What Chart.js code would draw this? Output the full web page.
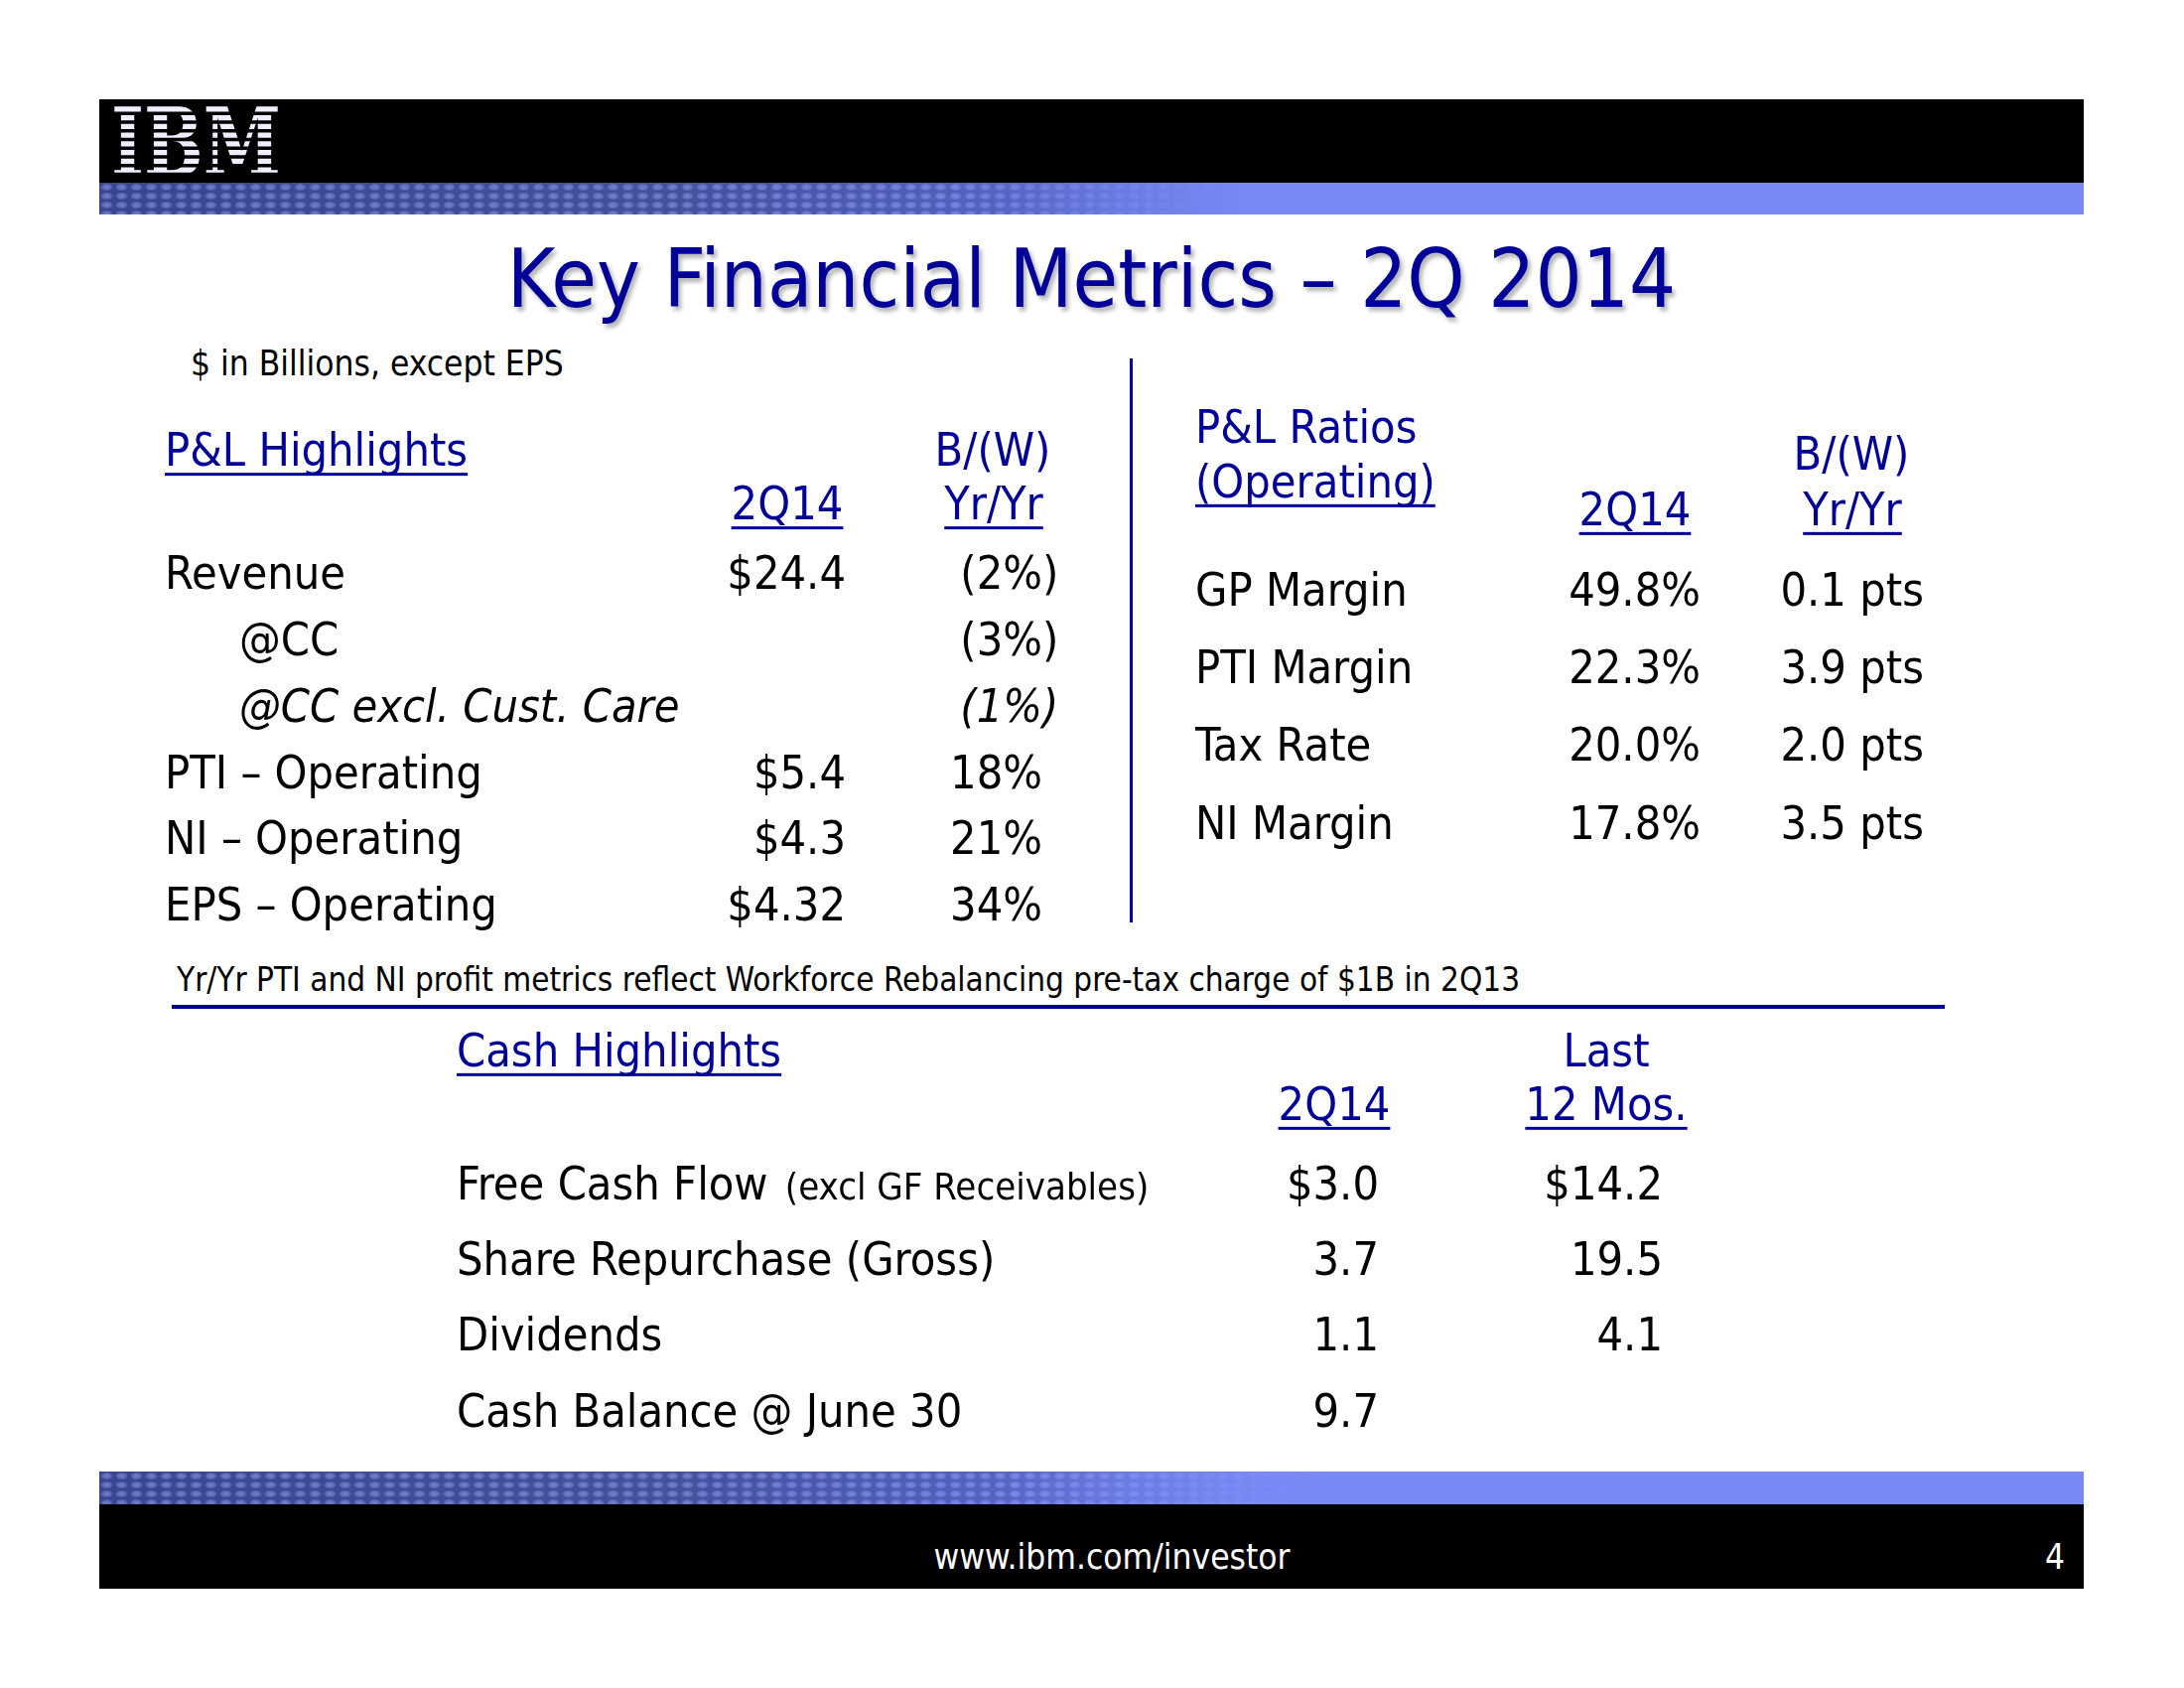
<!DOCTYPE html>
<html>
<head>
<meta charset="utf-8">
<title>Key Financial Metrics – 2Q 2014</title>
<script src="https://cdn.jsdelivr.net/npm/chart.js@4.4.1/dist/chart.umd.min.js"></script>
<style>
  html, body { margin: 0; padding: 0; background: #fff; }
  #slide { position: relative; width: 2200px; height: 1700px; overflow: hidden; background: #fff;
           font-family: 'DejaVu Sans Condensed', 'DejaVu Sans', sans-serif; }
  .abs { position: absolute; }
  .black { background: #000; left: 100px; width: 1999px; }
  .band { left: 100px; width: 1999px; overflow: hidden;
          background: linear-gradient(to right, #3a4592 0%, #45519f 30%, #5462c2 45%, #6c7ce6 52%, #7888f5 58%, #7888f5 100%); }
  .dots { position: absolute; left: 0; top: 0; height: 100%;
          background-image: radial-gradient(ellipse at center, rgba(160,170,250,0.55) 0%, rgba(160,170,250,0.35) 40%, rgba(0,0,0,0) 62%);
          background-size: 15px 9px;
          -webkit-mask-image: linear-gradient(to right, #000 0%, #000 75%, transparent 100%);
          mask-image: linear-gradient(to right, #000 0%, #000 75%, transparent 100%); }
  .txt { position: absolute; white-space: nowrap; line-height: 1; }
  canvas { position: absolute; }
</style>
</head>
<body>
<div id="slide">
  <div class="abs black" style="top:100px;height:85px;"></div>
  <div class="abs band" style="top:184px;height:32px;"><div class="dots" style="width:1150px;"></div></div>
  <canvas id="logo" width="180" height="80" style="left:108px;top:102px;"></canvas>

  <div class="txt" id="title" style="left:100px;width:1999px;text-align:center;top:239px;font-size:82.5px;color:#000099;text-shadow:3px 4px 4px rgba(0,0,0,0.3);">Key Financial Metrics – 2Q 2014</div>
  <div class="txt" style="left:192px;top:349px;font-size:35px;color:#000;">$ in Billions, except EPS</div>

  <div class="abs" style="left:1138px;top:361px;width:3px;height:568px;background:#000099;"></div>

  <canvas id="plChart" width="960" height="560" style="left:150px;top:400px;"></canvas>
  <canvas id="ratioChart" width="820" height="500" style="left:1160px;top:380px;"></canvas>

  <div class="txt" style="left:178px;top:970px;font-size:33px;color:#000;">Yr/Yr PTI and NI profit metrics reflect Workforce Rebalancing pre-tax charge of $1B in 2Q13</div>
  <div class="abs" style="left:173px;top:1012px;width:1786px;height:4px;background:#000099;"></div>

  <canvas id="cashChart" width="1400" height="445" style="left:420px;top:1020px;"></canvas>

  <div class="abs band" style="top:1482px;height:34px;"><div class="dots" style="width:1250px;"></div></div>
  <div class="abs black" style="top:1515px;height:85px;"></div>
  <div class="txt" style="left:1120px;transform:translateX(-50%);top:1551px;font-size:35px;color:#fff;">www.ibm.com/investor</div>
  <div class="txt" style="right:120px;top:1551px;font-size:35px;color:#fff;">4</div>
</div>

<script>
// ---------------- data ----------------
const plRows      = ['Revenue', '@CC', '@CC excl. Cust. Care', 'PTI – Operating', 'NI – Operating', 'EPS – Operating'];
const pl2Q14      = [24.4, null, null, 5.4, 4.3, 4.32];
const plYrYr      = [-2, -3, -1, 18, 21, 34];
const plHeads     = ['P&L Highlights', '2Q14', 'B/(W)', 'Yr/Yr'];

const ratioRows   = ['GP Margin', 'PTI Margin', 'Tax Rate', 'NI Margin'];
const ratio2Q14   = [49.8, 22.3, 20.0, 17.8];
const ratioYrYr   = [0.1, 3.9, 2.0, 3.5];
const ratioHeads  = ['P&L Ratios', '(Operating)', '2Q14', 'B/(W)', 'Yr/Yr'];

const cashRows    = ['Free Cash Flow', 'Share Repurchase (Gross)', 'Dividends', 'Cash Balance @ June 30'];
const cashNotes   = ['(excl GF Receivables)', '', '', ''];
const cash2Q14    = [3.0, 3.7, 1.1, 9.7];
const cashLTM     = [14.2, 19.5, 4.1, null];
const cashHeads   = ['Cash Highlights', 'Last', '2Q14', '12 Mos.'];

// ---------------- formatting ----------------
const fmtDollar = v => v == null ? '' : '$' + String(v);
const fmtPctChg = v => v == null ? '' : (v < 0 ? '(' + (-v) + '%)' : v + '%');
const fmtPct1   = v => v == null ? '' : v.toFixed(1) + '%';
const fmtPts    = v => v == null ? '' : v.toFixed(1) + ' pts';
const fmtCash   = (v, i) => v == null ? '' : (i === 0 ? '$' : '') + v.toFixed(1);

const FAMILY = "'DejaVu Sans Condensed', 'DejaVu Sans', sans-serif";
const BLUE = '#000099';
const fontStr = (size, italic) => (italic ? 'italic ' : '') + size + 'px ' + FAMILY;

// ---------------- IBM logo (decoration) ----------------
(function drawLogo() {
  const c = document.getElementById('logo');
  const g = c.getContext('2d');
  g.font = "bold 96px 'DejaVu Serif', serif";
  const w = g.measureText('IBM').width;
  g.save();
  g.translate(4, 75);
  g.scale(171 / w, 1);
  g.fillStyle = '#eeeeff';
  g.fillText('IBM', 0, 0);
  g.restore();
  g.fillStyle = '#000';
  for (let k = 0; k < 8; k++) g.fillRect(0, 5 + k * 8.75 + 5.5, 180, 3.5);
  g.fillRect(0, 0, 180, 5);
})();

// ---------------- table plugin ----------------
const tableText = {
  id: 'tableText',
  afterDatasetsDraw(chart, args, o) {
    const ctx = chart.ctx;
    const xs = chart.scales.x, ys = chart.scales.y;
    ctx.save();
    ctx.textBaseline = 'alphabetic';
    chart.data.datasets.forEach((ds, di) => {
      const meta = chart.getDatasetMeta(di);
      meta.data.forEach((pt, i) => {
        const txt = ds.texts[i];
        if (!txt) return;
        const italic = (o.italicRows || []).includes(i);
        ctx.font = fontStr(o.size, italic);
        ctx.fillStyle = '#000';
        ctx.textAlign = ds.align;
        let x = pt.x;
        if (ds.align === 'right' && ds.hangParen && txt.endsWith(')')) x += ctx.measureText(')').width;
        const y = pt.y + o.size * 0.36;
        ctx.fillText(txt, x, y);
        if (ds.notes && ds.notes[i]) {
          const w = ctx.measureText(txt + ' ').width;
          ctx.font = fontStr(o.noteSize, false);
          ctx.textAlign = 'left';
          ctx.fillText(ds.notes[i], x + w + 4, y);
        }
      });
    });
    const y0 = ys.getPixelForValue(0);
    ctx.fillStyle = BLUE;
    o.heads.forEach(h => {
      ctx.font = fontStr(o.size, false);
      ctx.textAlign = h.align;
      const x = xs.getPixelForValue(h.x);
      const y = y0 + h.dy + o.size * 0.36;
      ctx.fillText(h.text, x, y);
      if (h.underline) {
        const w = ctx.measureText(h.text).width;
        const x0 = h.align === 'left' ? x : (h.align === 'center' ? x - w / 2 : x - w);
        ctx.fillRect(x0, y + o.size * 0.15, w, 3);
      }
    });
    ctx.restore();
  }
};

function makeTable(id, rows, columns, layout, heads) {
  const canvas = document.getElementById(id);
  const datasets = columns.map(col => ({
    texts: col.texts,
    notes: col.notes,
    align: col.align,
    hangParen: col.hangParen,
    data: rows.map((r, i) => ({ x: typeof col.x === 'function' ? col.x(i) : col.x, y: r })),
    pointRadius: 0,
    pointHoverRadius: 0,
    showLine: false
  }));
  return new Chart(canvas, {
    type: 'scatter',
    data: { datasets },
    options: {
      responsive: false,
      animation: false,
      devicePixelRatio: 1,
      events: [],
      layout: { padding: { top: layout.padTop, bottom: layout.padBottom, left: 0, right: 0 } },
      scales: {
        x: { type: 'linear', min: 0, max: canvas.width, display: false },
        y: { type: 'category', labels: rows, offset: true, display: false }
      },
      plugins: {
        legend: { display: false },
        tooltip: { enabled: false },
        tableText: { size: 46.5, noteSize: 38, italicRows: layout.italicRows, heads }
      }
    },
    plugins: [tableText]
  });
}

// P&L Highlights
makeTable('plChart', plRows, [
  { texts: plRows, align: 'left', x: i => (i === 1 || i === 2) ? 91 : 16 },
  { texts: pl2Q14.map(fmtDollar), align: 'right', x: 702 },
  { texts: plYrYr.map(fmtPctChg), align: 'right', x: 900, hangParen: true }
], { padTop: 143, padBottom: 16, italicRows: [2] }, [
  { text: plHeads[0], x: 16,  dy: -124, align: 'left',   underline: true },
  { text: plHeads[1], x: 643, dy: -70,  align: 'center', underline: true },
  { text: plHeads[2], x: 850, dy: -124, align: 'center' },
  { text: plHeads[3], x: 851, dy: -70,  align: 'center', underline: true }
]);

// P&L Ratios
makeTable('ratioChart', ratioRows, [
  { texts: ratioRows, align: 'left', x: 44 },
  { texts: ratio2Q14.map(fmtPct1), align: 'right', x: 553 },
  { texts: ratioYrYr.map(fmtPts), align: 'right', x: 778 }
], { padTop: 174, padBottom: 13, italicRows: [] }, [
  { text: ratioHeads[0], x: 44,  dy: -164, align: 'left' },
  { text: ratioHeads[1], x: 44,  dy: -109, align: 'left',   underline: true },
  { text: ratioHeads[2], x: 487, dy: -81,  align: 'center', underline: true },
  { text: ratioHeads[3], x: 705, dy: -137, align: 'center' },
  { text: ratioHeads[4], x: 706, dy: -81,  align: 'center', underline: true }
]);

// Cash Highlights
makeTable('cashChart', cashRows, [
  { texts: cashRows, notes: cashNotes, align: 'left', x: 40 },
  { texts: cash2Q14.map(fmtCash), align: 'right', x: 969 },
  { texts: cashLTM.map(fmtCash), align: 'right', x: 1255 }
], { padTop: 133, padBottom: 7, italicRows: [] }, [
  { text: cashHeads[0], x: 40,   dy: -134, align: 'left',   underline: true },
  { text: cashHeads[1], x: 1198, dy: -134, align: 'center' },
  { text: cashHeads[2], x: 924,  dy: -80,  align: 'center', underline: true },
  { text: cashHeads[3], x: 1198, dy: -80,  align: 'center', underline: true }
]);
</script>
</body>
</html>
